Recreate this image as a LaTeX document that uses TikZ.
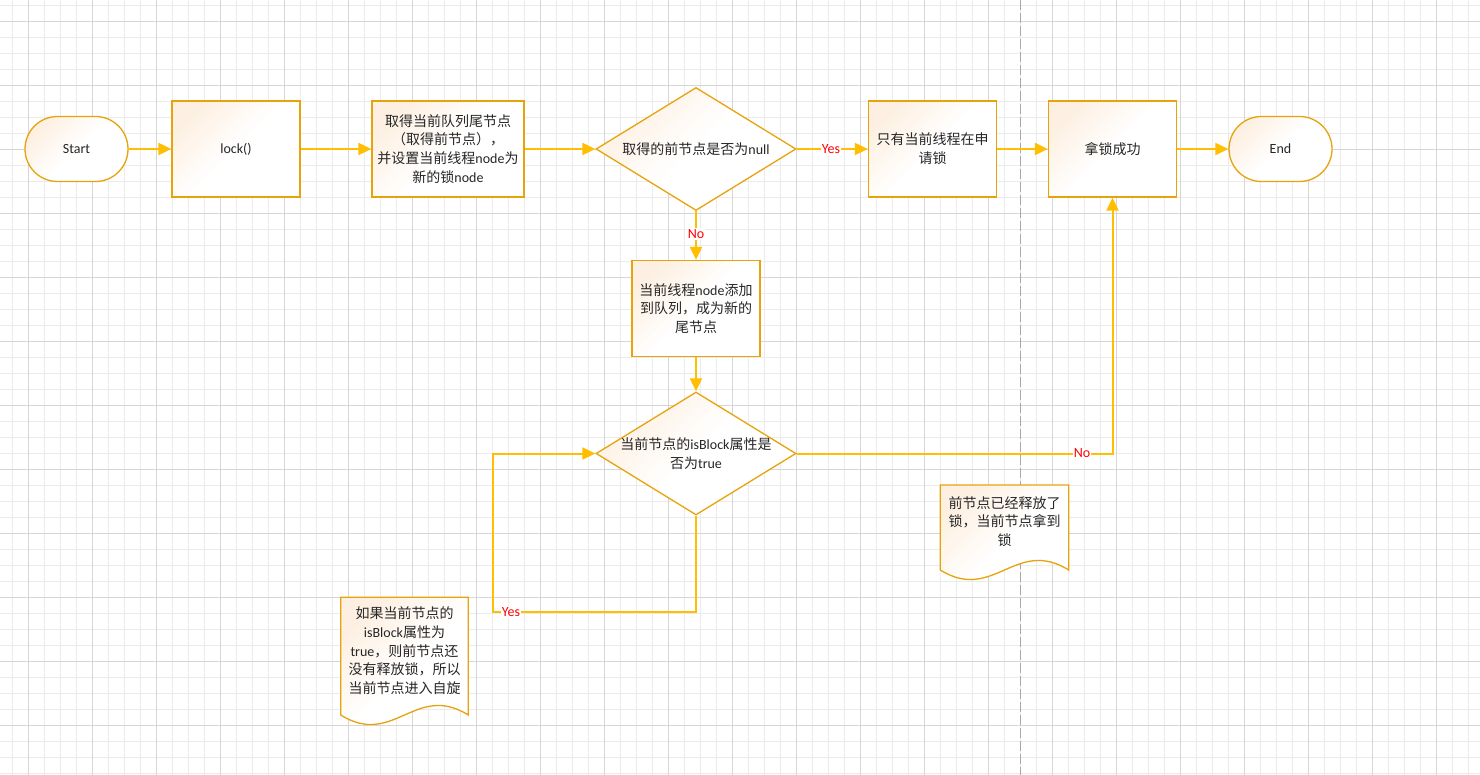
\documentclass[tikz,border=0pt]{standalone}
\usepackage{fontspec}
\setmainfont{Carlito}
\newfontfamily\cjk{Noto Sans CJK SC}
\usetikzlibrary{shapes.geometric,shapes.misc,arrows.meta,calc}
\definecolor{bordc}{HTML}{E6A30C}
\definecolor{connc}{HTML}{FFBF00}
\definecolor{peach}{HTML}{FDF0E2}
\definecolor{txtc}{HTML}{262626}
\definecolor{gminor}{HTML}{EBEBEB}
\definecolor{gmajor}{HTML}{D6D6D6}
\definecolor{dashc}{HTML}{A8A8A8}
\definecolor{lblred}{HTML}{FF0000}
\newcommand\fs{\fontsize{14pt}{18.8pt}\selectfont}
\newcommand\zh[1]{{\cjk #1}}
\tikzset{
  shadefill/.style={top color=peach, bottom color=white, middle color=white, shading angle=45},
  boxnode/.style={rectangle, draw=bordc, line width=1.3pt, shadefill, minimum width=128pt,
    minimum height=96pt, inner sep=0pt, align=center, text=txtc, font=\fs},
  termnode/.style={rounded rectangle, draw=bordc, line width=1.3pt, shadefill, minimum width=103pt,
    minimum height=65pt, inner sep=0pt, align=center, text=txtc, font=\fs},
  dianode/.style={diamond, shape aspect=1.626, draw=bordc, line width=1.3pt, shadefill,
    minimum width=200pt, minimum height=123pt, inner sep=0pt},
  textnode/.style={inner sep=0pt, align=center, text=txtc, font=\fs},
  docshape/.style={draw=bordc, line width=1.3pt, shadefill},
  conn/.style={draw=connc, line width=2pt, -{Triangle[length=13pt,width=12pt]}},
  lbl/.style={fill=white, inner sep=1pt, text=lblred, font=\fontsize{14pt}{16pt}\selectfont},
  gridminor/.style={draw=gminor, line width=1pt},
  gridmajor/.style={draw=gmajor, line width=1pt},
}
\begin{document}
\begin{tikzpicture}[x=1pt,y=-1pt]
\useasboundingbox (0,0) rectangle (1480,775);
\fill[white] (0,0) rectangle (1480,775);
% grid
\foreach \i in {0,...,92} {\draw[gridminor] ({12.3+16*\i},0) -- ++(0,775);}
\foreach \i in {0,...,48} {\draw[gridminor] (0,{5.3+16*\i}) -- ++(1480,0);}
\foreach \i in {0,...,23} {\draw[gridmajor] ({28.3+64*\i},0) -- ++(0,775);}
\foreach \i in {0,...,12} {\draw[gridmajor] (0,{21.3+64*\i}) -- ++(1480,0);}
% dashed separator
\draw[dashc, line width=1pt, dash pattern=on 10pt off 3pt] (1020.3,0) -- (1020.3,775);

% nodes
\node[termnode] (start) at (76.5,149) {Start};
\node[boxnode] (lock) at (236,149) {lock()};
\node[boxnode, minimum width=152pt] (tail) at (448,149)
  {\zh{取得当前队列尾节点}\\\zh{（取得前节点），}\\\zh{并设置当前线程}node\zh{为}\\\zh{新的锁}node};
\node[dianode] (d1) at (696,149) {};
\node[textnode] (d1t) at (d1.center) {\zh{取得的前节点是否为}null};
\node[boxnode] (only) at (932.5,149) {\zh{只有当前线程在申}\\\zh{请锁}};
\node[boxnode] (succ) at (1112.5,149) {\zh{拿锁成功}};
\node[termnode] (endn) at (1280.5,149) {End};
\node[boxnode] (add) at (696,308.5)
  {\zh{当前线程}node\zh{添加}\\\zh{到队列，成为新的}\\\zh{尾节点}};
\node[dianode] (d2) at (696,453.5) {};
\node[textnode] (d2t) at (d2.center) {\zh{当前节点的}isBlock\zh{属性是}\\\zh{否为}true};

% documents
\path[docshape] (340.7,597.3) -- (468.3,597.3) -- (468.3,715)
  .. controls (415.3,682) and (393.7,748) .. (340.7,715) -- cycle;
\node[textnode] (doc1) at (404.5,650.8)
  {\zh{如果当前节点的}\\isBlock\zh{属性为}\\true\zh{，则前节点还}\\\zh{没有释放锁，所以}\\\zh{当前节点进入自旋}};
\path[docshape] (940.3,485) -- (1068.7,485) -- (1068.7,570)
  .. controls (1015.7,537) and (993.3,603) .. (940.3,570) -- cycle;
\node[textnode] (doc2) at (1004.5,521.5)
  {\zh{前节点已经释放了}\\\zh{锁，当前节点拿到}\\\zh{锁}};

% connectors
\draw[conn] (start.east) -- (lock.west);
\draw[conn] (lock.east) -- (tail.west);
\draw[conn] (tail.east) -- (d1.west);
\draw[conn] (d1.east) -- (only.west);
\draw[conn] (only.east) -- (succ.west);
\draw[conn] (succ.east) -- (endn.west);
\draw[conn] (d1.south) -- (add.north);
\draw[conn] (add.south) -- (d2.north);
\coordinate (loopc) at (493,612);
\draw[conn] (d2.south) |- (loopc) |- (d2.west);
\draw[conn] (d2.east) -| (succ.south);

% labels
\node[lbl] (yes1) at (831,149) {Yes};
\node[lbl] (no1) at (696,234) {No};
\node[lbl] (yes2) at (511,612) {Yes};
\node[lbl] (no2) at (1082,453.5) {No};
\end{tikzpicture}
\end{document}
